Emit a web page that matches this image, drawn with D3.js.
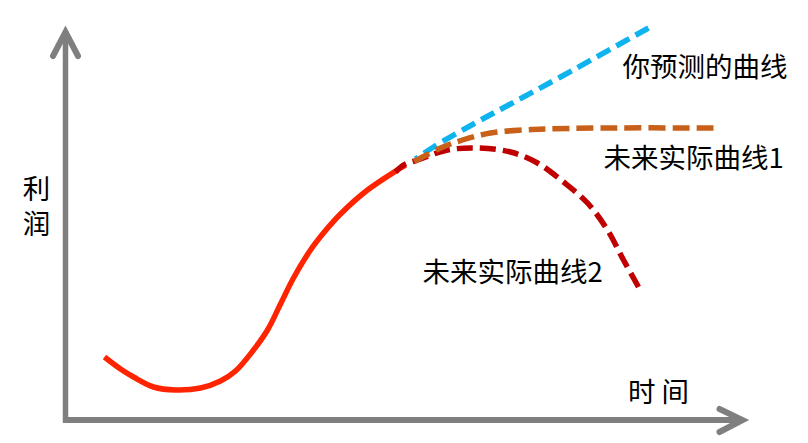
<!DOCTYPE html>
<html>
<head>
<meta charset="utf-8">
<script src="https://cdn.jsdelivr.net/npm/d3@7"></script>
<style>
  html, body { margin: 0; padding: 0; background: #fff; }
  svg { display: block; }
  text { font-family: "Noto Sans CJK SC", "Noto Sans", sans-serif; fill: #000; }
</style>
</head>
<body>
<svg id="chart" width="808" height="443"></svg>
<script>
// ---- data (time, profit) in arbitrary units ----
const actualT   = [39, 55, 68, 88, 110, 135, 155, 170, 188, 202, 215, 228, 245, 258, 275, 302, 335, 340];
const actualP   = [63, 51, 43, 33, 30, 32, 39, 49, 70, 90, 116, 142, 170, 187, 206, 230, 252, 255];

const predictT  = [350, 368, 408, 445, 495, 583];
const predictP  = [261, 273, 296, 316, 343, 392];

const future1T  = [348, 375, 397, 425, 458, 482, 535, 648];
const future1P  = [258, 272, 280, 287, 290, 291, 292, 292];

const future2T  = [330, 338, 352, 382, 412, 445, 472, 498, 522, 542, 558, 573];
const future2P  = [248, 255, 260, 270, 272, 268, 257, 238, 217, 190, 160, 133];

const axisXLabel = "时 间";
const axisYLabel = "利润";
const seriesLabels = ["你预测的曲线", "未来实际曲线1", "未来实际曲线2"];

// ---- scales ----
const x = d3.scaleLinear().domain([0, 677]).range([65.5, 742.5]);
const y = d3.scaleLinear().domain([0, 388]).range([420, 32]);

const svg = d3.select("#chart");
const gray = "#7f7f7f";

// axes with arrow heads
const axisG = svg.append("g").attr("stroke", gray).attr("fill", "none");
axisG.append("line")
  .attr("x1", x(0)).attr("x2", x(0))
  .attr("y1", y(-3)).attr("y2", y(386))
  .attr("stroke-width", 5.5);
axisG.append("line")
  .attr("x1", x(-2.5)).attr("x2", x(675))
  .attr("y1", y(0)).attr("y2", y(0))
  .attr("stroke-width", 6);
axisG.append("polyline")
  .attr("points", [[x(-12.5), y(364)], [x(0), y(388)], [x(12.5), y(364)]].map(p => p.join(",")).join(" "))
  .attr("stroke-width", 6).attr("stroke-linecap", "round").attr("stroke-linejoin", "miter");
axisG.append("polyline")
  .attr("points", [[x(654), y(11)], [x(677), y(0)], [x(654), y(-12)]].map(p => p.join(",")).join(" "))
  .attr("stroke-width", 6).attr("stroke-linecap", "round").attr("stroke-linejoin", "miter");

const line = d3.line()
  .x(d => x(d[0])).y(d => y(d[1]))
  .curve(d3.curveCatmullRom.alpha(0.5));

const zip = (a, b) => a.map((v, i) => [v, b[i]]);

// dashed path helper: pattern arranged so it ends on a full dash
function dashed(tArr, pArr, color, dash, gap) {
  const p = svg.append("path")
    .datum(zip(tArr, pArr))
    .attr("d", line)
    .attr("fill", "none")
    .attr("stroke", color)
    .attr("stroke-width", 5.5)
    .attr("stroke-dasharray", dash + "," + gap);
  const len = p.node().getTotalLength();
  const period = dash + gap;
  const off = ((dash - (len % period)) % period + period) % period;
  p.attr("stroke-dashoffset", off);
  return p;
}

// actual (solid)
svg.append("path")
  .datum(zip(actualT, actualP))
  .attr("d", line)
  .attr("fill", "none")
  .attr("stroke", "#ff2400")
  .attr("stroke-width", 5.5);

dashed(future2T, future2P, "#c00000", 16, 7);
dashed(predictT, predictP, "#0fb3ee", 15, 7);
dashed(future1T, future1P, "#c8601a", 17, 7);

// labels
const fs = 27.5;
svg.append("text").attr("x", x(557)).attr("y", y(355))
  .attr("font-size", fs).attr("dominant-baseline", "central")
  .text(seriesLabels[0]);
svg.append("text").attr("x", x(538)).attr("y", y(264))
  .attr("font-size", fs).attr("dominant-baseline", "central")
  .text(seriesLabels[1]);
svg.append("text").attr("x", x(357)).attr("y", y(150))
  .attr("font-size", fs).attr("dominant-baseline", "central")
  .text(seriesLabels[2]);

svg.append("text").attr("x", x(593)).attr("y", y(30))
  .attr("font-size", fs).attr("text-anchor", "middle").attr("dominant-baseline", "central")
  .style("white-space", "pre")
  .text(axisXLabel);

// vertical y-axis label, one text element written top-to-bottom
svg.append("text")
  .attr("x", x(-29)).attr("y", y(245))
  .attr("font-size", fs)
  .style("writing-mode", "vertical-rl")
  .style("letter-spacing", "7.5px")
  .text(axisYLabel);
</script>
</body>
</html>
